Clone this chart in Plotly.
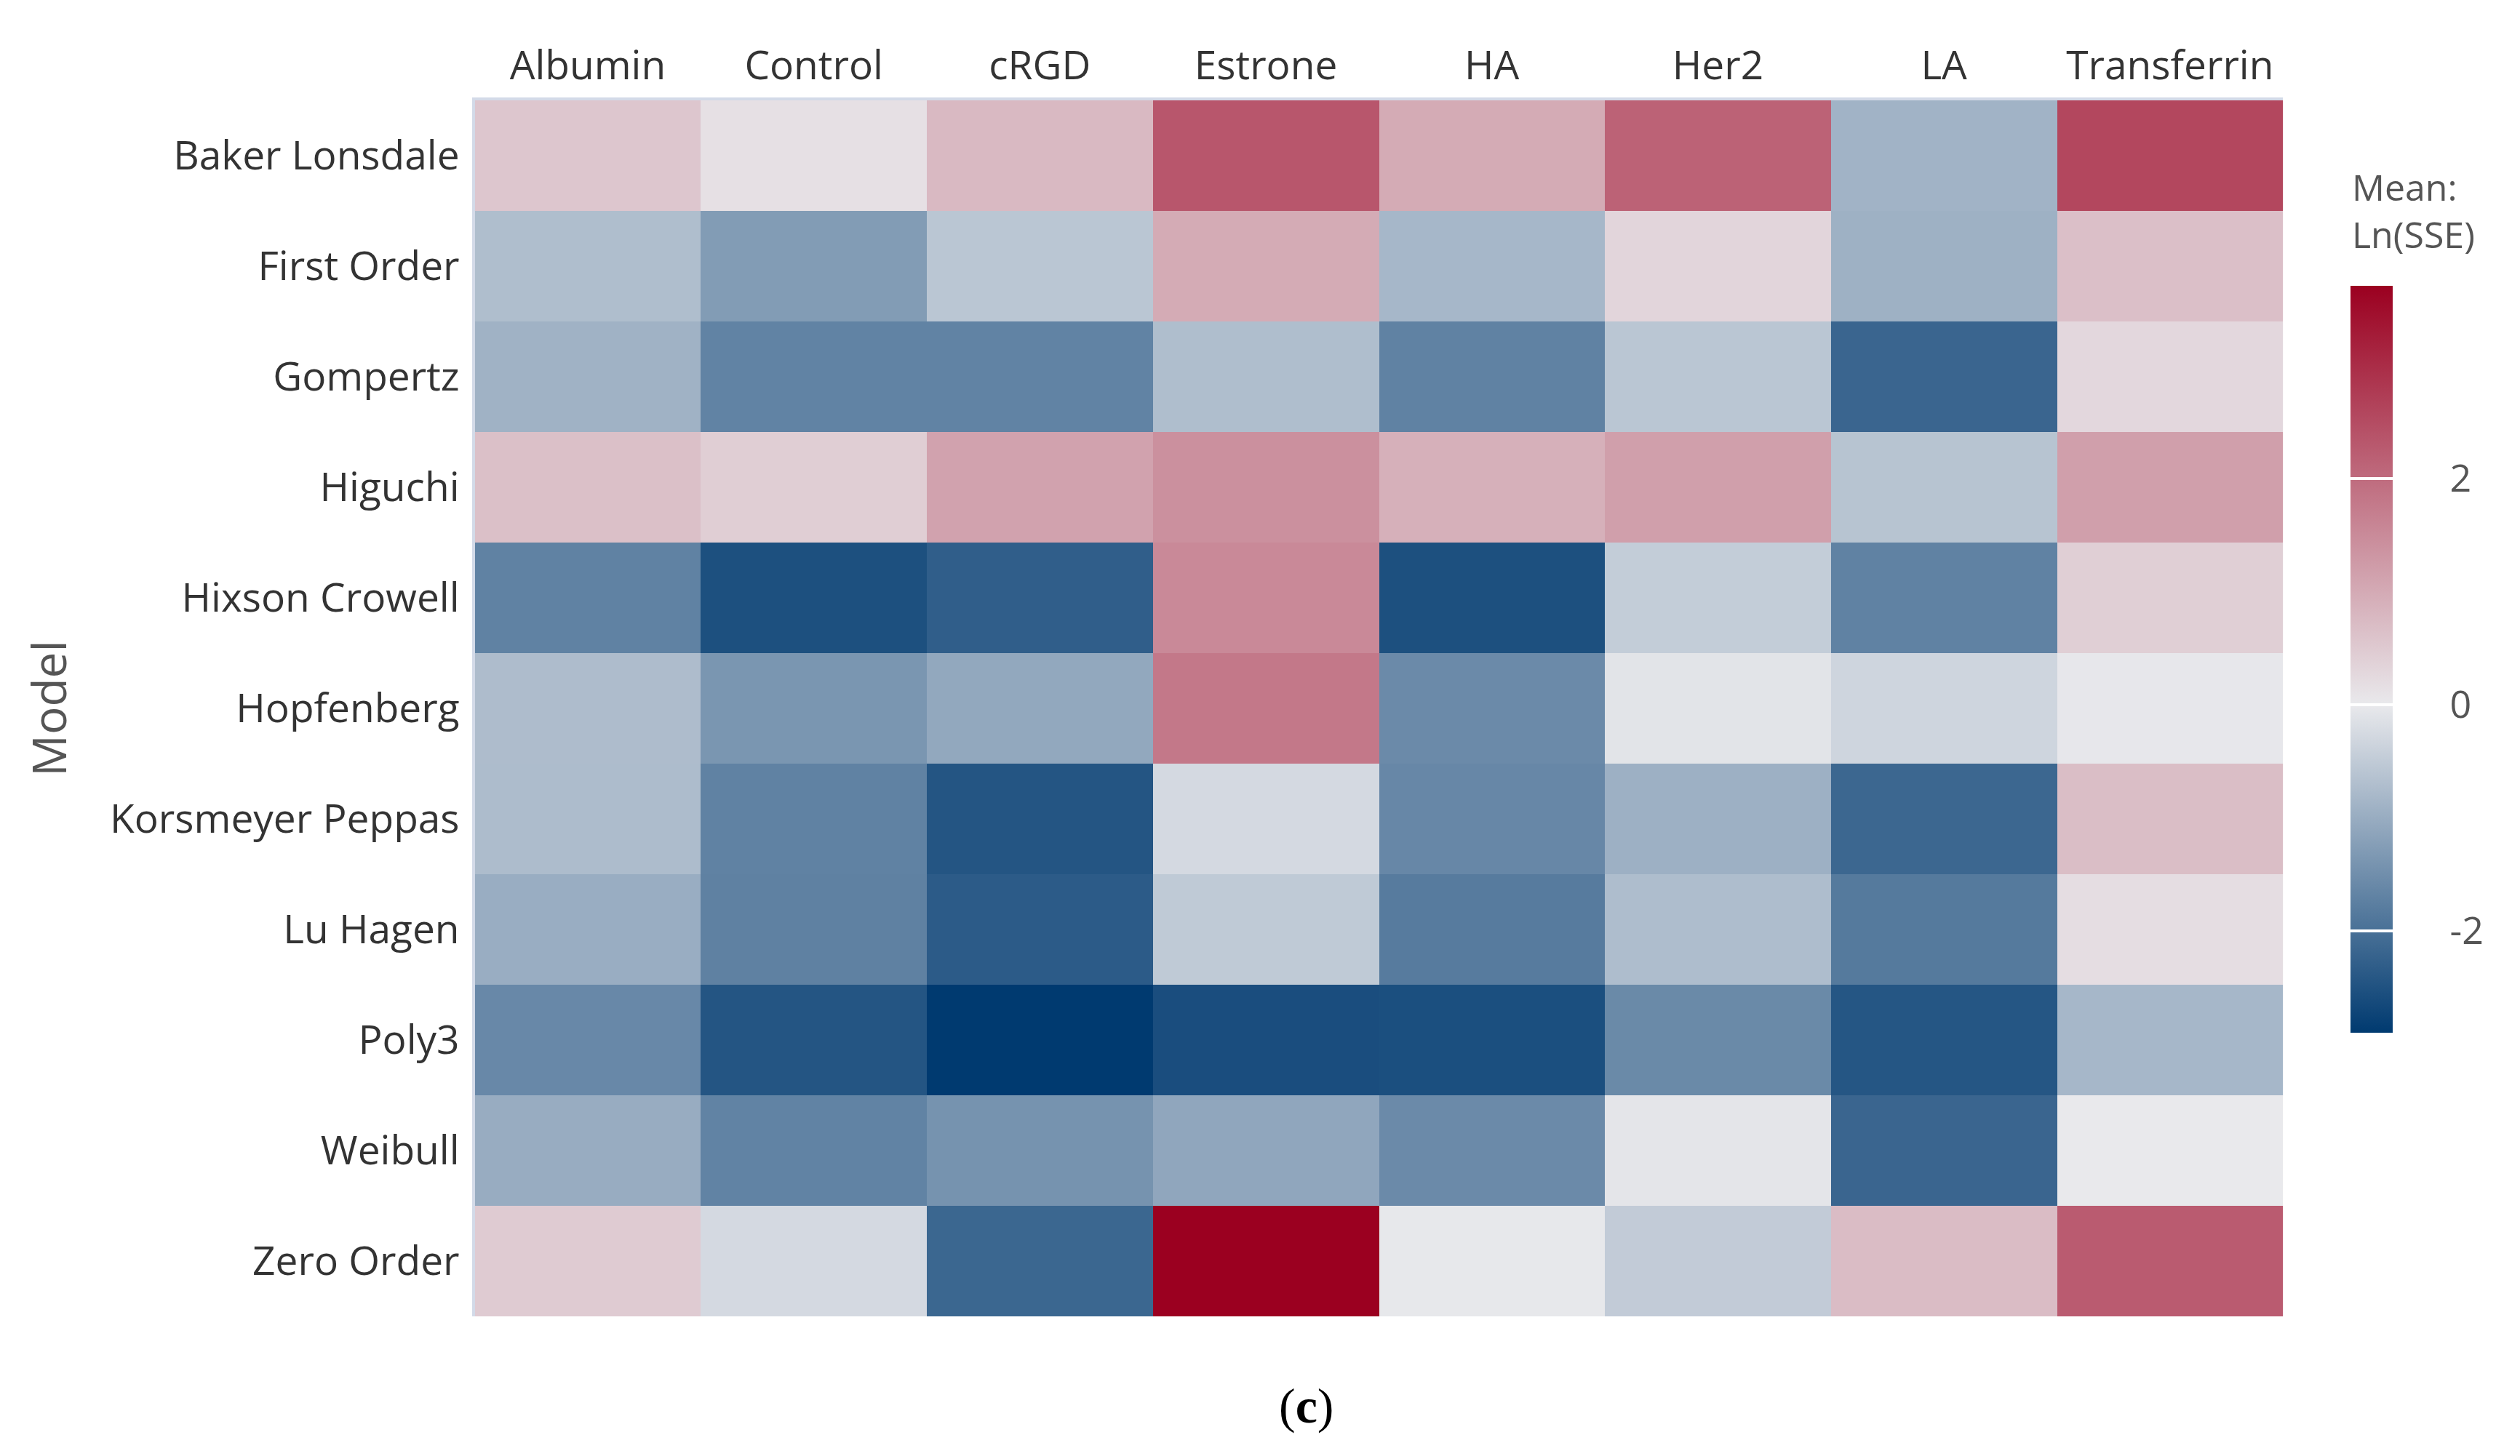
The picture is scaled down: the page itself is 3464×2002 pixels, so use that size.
import plotly.graph_objects as go

carriers = ["Albumin", "Control", "cRGD", "Estrone", "HA", "Her2", "LA", "Transferrin"]
models = ["Baker Lonsdale", "First Order", "Gompertz", "Higuchi", "Hixson Crowell",
          "Hopfenberg", "Korsmeyer Peppas", "Lu Hagen", "Poly3", "Weibull", "Zero Order"]

baker_lonsdale   = [0.55, 0.14, 0.76, 2.33, 0.99, 2.14, -0.89, 2.58]
first_order      = [-0.72, -1.28, -0.58, 0.99, -0.83, 0.31, -0.93, 0.66]
gompertz         = [-0.91, -1.69, -1.69, -0.72, -1.70, -0.58, -2.18, 0.28]
higuchi          = [0.65, 0.43, 1.12, 1.42, 0.90, 1.18, -0.62, 1.18]
hixson_crowell   = [-1.70, -2.54, -2.30, 1.53, -2.54, -0.47, -1.70, 0.41]
hopfenberg       = [-0.74, -1.38, -1.08, 1.80, -1.57, -0.09, -0.33, -0.03]
korsmeyer_peppas = [-0.75, -1.70, -2.45, -0.26, -1.62, -0.94, -2.15, 0.69]
lu_hagen         = [-0.99, -1.72, -2.35, -0.52, -1.82, -0.73, -1.84, 0.19]
poly3            = [-1.60, -2.45, -2.90, -2.58, -2.56, -1.58, -2.44, -0.83]
weibull          = [-1.01, -1.69, -1.43, -1.11, -1.57, -0.06, -2.18, 0.00]
zero_order       = [0.47, -0.26, -2.16, 3.70, -0.02, -0.49, 0.71, 2.25]

z = [baker_lonsdale, first_order, gompertz, higuchi, hixson_crowell, hopfenberg,
     korsmeyer_peppas, lu_hagen, poly3, weibull, zero_order]

zmin, zmax = -2.90, 3.70
mid = (0 - zmin) / (zmax - zmin)
colorscale = [[0.0, "#003A70"], [mid, "#E9E9EC"], [1.0, "#9B0020"]]

cb_ticks = [-2, 0, 2]
nb = "\u00a0"
cb_ticktext = [nb * 5 + "-2", nb * 5 + "0", nb * 5 + "2"]

W, H = 3464, 2002
fig = go.Figure(go.Heatmap(
    z=z, x=carriers, y=models, zmin=zmin, zmax=zmax, colorscale=colorscale,
    colorbar=dict(
        x=3235 / W, xanchor="left", y=1 - 898.5 / H, yanchor="middle",
        len=1027 / H, lenmode="fraction", thickness=58, thicknessmode="pixels",
        xpad=0, ypad=0,
        outlinewidth=0, tickvals=cb_ticks, ticktext=cb_ticktext,
        ticks="inside", ticklen=58, tickwidth=4, tickcolor="white",
        tickfont=dict(family="Open Sans", size=52, color="#555555"),
    ),
))

fig.update_layout(
    width=W, height=H, margin=dict(l=0, r=0, t=0, b=0),
    paper_bgcolor="white", plot_bgcolor="white",
    font=dict(family="Open Sans", color="#333333"),
    xaxis=dict(domain=[647 / W, 3142 / W], side="top", showgrid=False, zeroline=False,
               ticks="outside", ticklen=3, tickcolor="rgba(0,0,0,0)",
               tickfont=dict(family="Open Sans", size=55, color="#333333"),
               showline=True, linecolor="#D3DAE8", linewidth=4),
    yaxis=dict(domain=[1 - 1802 / H, 1 - 130 / H], autorange="reversed", showgrid=False,
               zeroline=False, ticks="outside", ticklen=6, tickcolor="rgba(0,0,0,0)",
               tickfont=dict(family="Open Sans", size=55, color="#333333"),
               showline=True, linecolor="#D3DAE8", linewidth=4,
               title=dict(text="Model", font=dict(family="Open Sans", size=64, color="#555555"),
                          standoff=40)),
    annotations=[
        dict(text="Mean:<br>Ln(SSE)", x=3235 / W, y=1 - 213 / H, xref="paper", yref="paper",
             xanchor="left", yanchor="top", align="left", showarrow=False,
             font=dict(family="Open Sans", size=50, color="#555555")),
        dict(text="(<b>c</b>)", x=1795 / W, y=1 - 1925 / H, xref="paper", yref="paper",
             xanchor="center", yanchor="middle", showarrow=False,
             font=dict(family="Liberation Serif", size=68, color="#000000")),
    ],
)

fig.write_html("out.html")
